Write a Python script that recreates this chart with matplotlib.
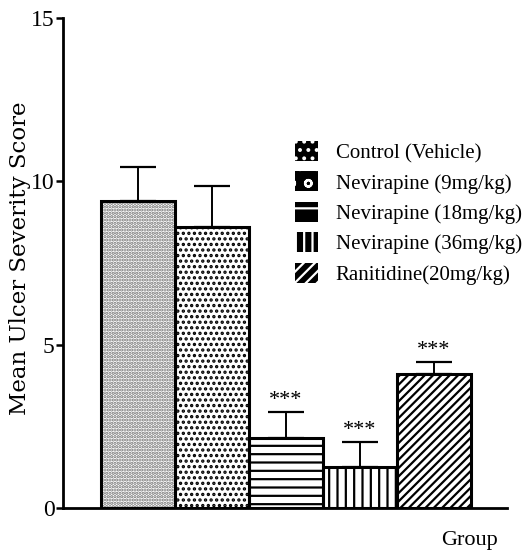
import matplotlib
matplotlib.use("Agg")
import matplotlib.pyplot as plt
from matplotlib.patches import Patch

groups = ["Control (Vehicle)", "Nevirapine (9mg/kg)", "Nevirapine (18mg/kg)",
          "Nevirapine (36mg/kg)", "Ranitidine(20mg/kg)"]
means = [9.4, 8.6, 2.15, 1.25, 4.1]
errors = [1.05, 1.25, 0.8, 0.78, 0.38]
signif = ["", "", "***", "***", "***"]
yticks = [0, 5, 10, 15]

hatches = [".....", "...", "--", "||", "////"]
hatch_colors = ["#707070", "black", "black", "black", "black"]
legend_hatches = ["..", "o", "-", "||", "///"]

plt.rcParams["hatch.linewidth"] = 1.6
serif = "Liberation Serif"

fig = plt.figure(figsize=(5.26, 5.57), dpi=100)
ax = fig.add_axes([63/526, 1-508/557, (507-63)/526, (508-18)/557])

x = [0, 1, 2, 3, 4]
fills = ax.bar(x, means, width=1.0, color="white", edgecolor=hatch_colors,
               linewidth=0, zorder=2)
for b, h in zip(fills, hatches):
    b.set_hatch(h)
ax.bar(x, means, width=1.0, fill=False, edgecolor="black", linewidth=2.2,
       zorder=2.5)
ax.errorbar(x, means, yerr=[[0]*5, errors], fmt="none", ecolor="black",
            elinewidth=1.4, capsize=13, capthick=1.6, zorder=3)
for xi, m, e, s in zip(x, means, errors, signif):
    if s:
        ax.annotate(s, (xi, m + e), xytext=(0, 1), textcoords="offset points",
                    ha="center", va="bottom", fontsize=16, family=serif)

ax.set_xlim(-1.01, 4.99)
ax.set_ylim(0, 15)
ax.set_yticks(yticks)
ax.set_xticks([])
for s in ["top", "right"]:
    ax.spines[s].set_visible(False)
ax.spines["left"].set_linewidth(2)
ax.spines["bottom"].set_linewidth(2)
ax.tick_params(axis="y", length=5, width=1.8, labelsize=17, pad=1)
for t in ax.get_yticklabels():
    t.set_family(serif)

fig.text(20/526, 1-258/557, "Mean Ulcer Severity Score", rotation=90,
         ha="center", va="center", family="DejaVu Serif", fontsize=16.5)

fig.text(470/526, 1-541/557, "Group", ha="center", va="center",
         family=serif, fontsize=16)

handles = [Patch(facecolor="black", edgecolor="white", hatch=h, linewidth=0)
           for h in legend_hatches]
leg = fig.legend(handles, groups, loc="upper left",
                 bbox_to_anchor=(295/526, 1-141/557), frameon=False,
                 prop={"family": serif, "size": 15},
                 handlelength=1.1, handleheight=1.1, handletextpad=0.85,
                 labelspacing=0.4, borderpad=0, borderaxespad=0)

fig.savefig("out.png", dpi=100)
